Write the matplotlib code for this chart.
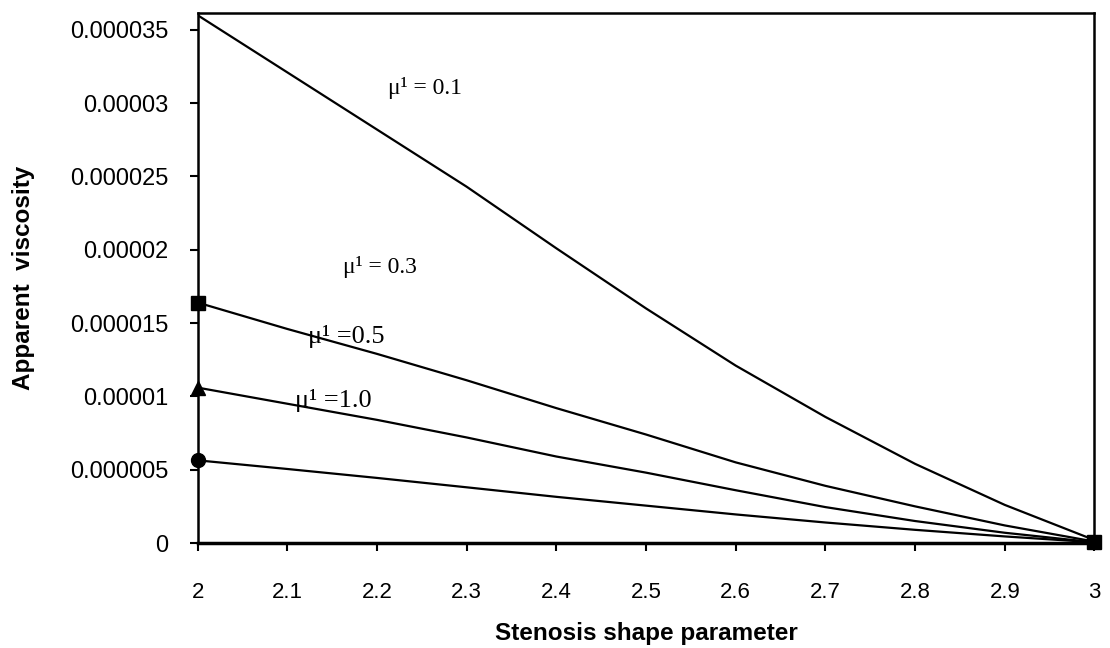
import matplotlib
matplotlib.use("Agg")
import matplotlib.pyplot as plt

# shape parameter
x = [2.0, 2.1, 2.2, 2.3, 2.4, 2.5, 2.6, 2.7, 2.8, 2.9, 3.0]

# apparent viscosity for each mu^1 (in units of 1e-6)
mu_01 = [36.0, 32.1, 28.2, 24.3, 20.1, 16.0, 12.1, 8.6, 5.4, 2.6, 0.2]
mu_03 = [16.4, 14.6, 12.9, 11.1, 9.2, 7.4, 5.5, 3.9, 2.5, 1.2, 0.1]
mu_05 = [10.6, 9.5, 8.4, 7.2, 5.9, 4.8, 3.6, 2.45, 1.5, 0.7, 0.05]
mu_10 = [5.64, 5.05, 4.44, 3.8, 3.15, 2.55, 1.95, 1.4, 0.9, 0.45, 0.05]

xticks = [2.0, 2.1, 2.2, 2.3, 2.4, 2.5, 2.6, 2.7, 2.8, 2.9, 3.0]
xticklabels = ['2', '2.1', '2.2', '2.3', '2.4', '2.5', '2.6', '2.7', '2.8', '2.9', '3']
yticks = [0, 5e-6, 10e-6, 15e-6, 20e-6, 25e-6, 30e-6, 35e-6]
yticklabels = ['0', '0.000005', '0.00001', '0.000015', '0.00002',
               '0.000025', '0.00003', '0.000035']

labels = ['μ¹ = 0.1', 'μ¹ = 0.3', 'μ¹ =0.5', 'μ¹ =1.0']
label_x = [2.212, 2.162, 2.123, 2.109]
label_y = [31.0e-6, 18.8e-6, 14.1e-6, 9.7e-6]
label_size = [17, 17, 19, 19]

plt.rcParams['font.family'] = ['Liberation Sans', 'DejaVu Sans']

fig = plt.figure(figsize=(11.1, 6.48), dpi=100)
ax = fig.add_axes([0.178, 0.162, 0.808, 0.818])

def scale(vals):
    return [v * 1e-6 for v in vals]

ax.plot(x, scale(mu_01), color='black', lw=1.6)
ax.plot(x, scale(mu_03), color='black', lw=1.6, marker='s', markersize=10,
        markevery=[0, len(x) - 1], clip_on=False, zorder=5)
ax.plot(x, scale(mu_05), color='black', lw=1.6, marker='^', markersize=10,
        markevery=[0], clip_on=False, zorder=4)
ax.plot(x, scale(mu_10), color='black', lw=1.6, marker='o', markersize=10,
        markevery=[0], clip_on=False, zorder=4)

for t, lx, ly, fs in zip(labels, label_x, label_y, label_size):
    ax.text(lx, ly, t, fontsize=fs, family=['Liberation Serif', 'DejaVu Serif'],
            ha='left', va='center')

ax.set_xlim(2, 3)
ax.set_ylim(0, 36.15e-6)
ax.set_xticks(xticks)
ax.set_xticklabels(xticklabels)
ax.set_yticks(yticks)
ax.set_yticklabels(yticklabels)
ax.tick_params(axis='both', direction='out', length=6, width=1.5, colors='black')
ax.tick_params(axis='x', pad=22, labelsize=16)
ax.tick_params(axis='y', pad=15, labelsize=17)

for side in ['left', 'right', 'top']:
    ax.spines[side].set_linewidth(1.8)
ax.spines['bottom'].set_linewidth(2.5)

ax.set_xlabel('Stenosis shape parameter', fontsize=17.5, fontweight='bold')
ax.set_ylabel('Apparent  viscosity', fontsize=17.5, fontweight='bold')
ax.xaxis.set_label_coords(0.5, -0.149)
ax.yaxis.set_label_coords(-0.181, 0.5)

fig.savefig('out.png', dpi=100)
